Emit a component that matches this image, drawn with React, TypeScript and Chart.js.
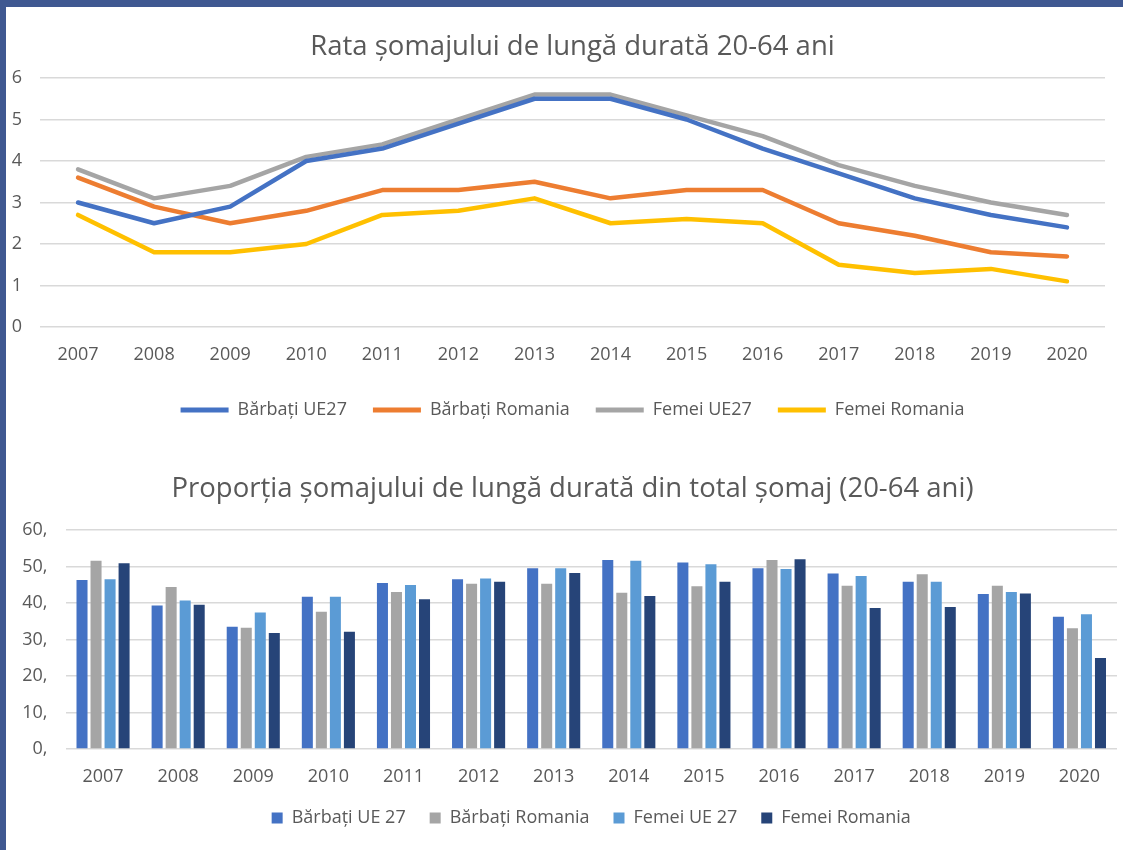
import React, { useEffect, useRef } from "react";
import { Chart, registerables } from "chart.js";

Chart.register(...registerables);

// ---------- DATA ----------
const years = ["2007", "2008", "2009", "2010", "2011", "2012", "2013", "2014", "2015", "2016", "2017", "2018", "2019", "2020"];

const rateTitle = "Rata șomajului de lungă durată 20-64 ani";
const rateSeriesNames = ["Bărbați UE27", "Bărbați Romania", "Femei UE27", "Femei Romania"];
const rateBarbatiUE27 = [3.0, 2.5, 2.9, 4.0, 4.3, 4.9, 5.5, 5.5, 5.0, 4.3, 3.7, 3.1, 2.7, 2.4];
const rateBarbatiRomania = [3.6, 2.9, 2.5, 2.8, 3.3, 3.3, 3.5, 3.1, 3.3, 3.3, 2.5, 2.2, 1.8, 1.7];
const rateFemeiUE27 = [3.8, 3.1, 3.4, 4.1, 4.4, 5.0, 5.6, 5.6, 5.1, 4.6, 3.9, 3.4, 3.0, 2.7];
const rateFemeiRomania = [2.7, 1.8, 1.8, 2.0, 2.7, 2.8, 3.1, 2.5, 2.6, 2.5, 1.5, 1.3, 1.4, 1.1];
const rateTickLabels = ["0", "1", "2", "3", "4", "5", "6"];

const shareTitle = "Proporția șomajului de lungă durată din total șomaj (20-64 ani)";
const shareSeriesNames = ["Bărbați UE 27", "Bărbați Romania", "Femei UE 27", "Femei Romania"];
const shareBarbatiUE27 = [46.3, 39.3, 33.5, 41.7, 45.5, 46.5, 49.5, 51.8, 51.1, 49.5, 48.1, 45.8, 42.5, 36.2];
const shareBarbatiRomania = [51.6, 44.4, 33.2, 37.6, 43.0, 45.3, 45.3, 42.8, 44.6, 51.8, 44.7, 47.9, 44.7, 33.1];
const shareFemeiUE27 = [46.5, 40.7, 37.4, 41.7, 44.9, 46.7, 49.5, 51.6, 50.6, 49.3, 47.4, 45.8, 43.0, 36.9];
const shareFemeiRomania = [50.9, 39.5, 31.8, 32.1, 41.0, 45.8, 48.2, 41.9, 45.8, 52.0, 38.6, 38.9, 42.6, 24.9];
const shareTickLabels = ["0,", "10,", "20,", "30,", "40,", "50,", "60,"];

// ---------- STYLE ----------
const TEXT = "#595959";
const GRID = "#D9D9D9";
const FONT = "'Open Sans', 'DejaVu Sans', sans-serif";
const lineColors = ["#4472C4", "#ED7D31", "#A5A5A5", "#FFC000"];
const barColors = ["#4472C4", "#A5A5A5", "#5B9BD5", "#264478"];

function LineChart() {
  const ref = useRef<HTMLCanvasElement | null>(null);
  useEffect(() => {
    if (!ref.current) return;
    const series = [rateBarbatiUE27, rateBarbatiRomania, rateFemeiUE27, rateFemeiRomania];
    const chart = new Chart(ref.current, {
      type: "line",
      data: {
        labels: years,
        datasets: series.map((d, i) => ({
          label: rateSeriesNames[i],
          data: d,
          borderColor: lineColors[i],
          backgroundColor: lineColors[i],
          borderWidth: 4.5,
          pointRadius: 0,
          tension: 0,
          fill: false,
          borderJoinStyle: "round" as const,
          borderCapStyle: "round" as const,
        })),
      },
      options: {
        animation: false,
        responsive: false,
        maintainAspectRatio: false,
        layout: { padding: { top: 71, left: 0, right: 18, bottom: 16 } },
        plugins: {
          title: { display: false },
          legend: {
            position: "bottom",
            fullSize: false,
            labels: {
              boxWidth: 48,
              boxHeight: 5,
              padding: 26,
              color: TEXT,
              font: { family: FONT, size: 18 },
              generateLabels: (c: any) =>
                c.data.datasets.map((ds: any, i: number) => ({
                  text: ds.label,
                  fillStyle: ds.borderColor,
                  strokeStyle: ds.borderColor,
                  lineWidth: 0,
                  hidden: false,
                  datasetIndex: i,
                  fontColor: TEXT,
                })),
            },
          },
          tooltip: { enabled: false },
        },
        scales: {
          x: {
            offset: true,
            grid: { display: false, drawTicks: false },
            border: { display: false },
            ticks: { color: TEXT, font: { family: FONT, size: 18 }, padding: 17, maxRotation: 0 },
            afterFit: (s: any) => {
              s.height = 48;
            },
          },
          y: {
            min: 0,
            max: 6,
            grid: { color: GRID, lineWidth: 1.5, drawTicks: false },
            border: { display: false },
            ticks: {
              stepSize: 1,
              color: TEXT,
              font: { family: FONT, size: 18 },
              padding: 18,
              callback: (v: any) => rateTickLabels[Math.round(Number(v))] ?? "",
            },
            afterFit: (s: any) => {
              s.width = 34;
            },
          },
        },
      },
    });
    return () => chart.destroy();
  }, []);
  return <canvas ref={ref} width={1117} height={438} style={{ display: "block" }} />;
}

function BarChart() {
  const ref = useRef<HTMLCanvasElement | null>(null);
  useEffect(() => {
    if (!ref.current) return;
    const series = [shareBarbatiUE27, shareBarbatiRomania, shareFemeiUE27, shareFemeiRomania];
    const chart = new Chart(ref.current, {
      type: "bar",
      data: {
        labels: years,
        datasets: series.map((d, i) => ({
          label: shareSeriesNames[i],
          data: d,
          backgroundColor: barColors[i],
          borderWidth: 0,
          categoryPercentage: 0.747,
          barPercentage: 0.786,
        })),
      },
      options: {
        animation: false,
        responsive: false,
        maintainAspectRatio: false,
        layout: { padding: { top: 85, left: 0, right: 6, bottom: 13 } },
        plugins: {
          title: { display: false },
          legend: {
            position: "bottom",
            fullSize: false,
            labels: {
              boxWidth: 11,
              boxHeight: 11,
              padding: 24,
              color: TEXT,
              font: { family: FONT, size: 18 },
            },
          },
          tooltip: { enabled: false },
        },
        scales: {
          x: {
            grid: { display: false, drawTicks: false },
            border: { display: false },
            ticks: { color: TEXT, font: { family: FONT, size: 18 }, padding: 17, maxRotation: 0 },
            afterFit: (s: any) => {
              s.height = 36;
            },
          },
          y: {
            min: 0,
            max: 60,
            grid: { color: GRID, lineWidth: 1.5, drawTicks: false },
            border: { display: false },
            ticks: {
              stepSize: 10,
              color: TEXT,
              font: { family: FONT, size: 18 },
              padding: 18,
              callback: (v: any) => shareTickLabels[Math.round(Number(v) / 10)] ?? "",
            },
            afterFit: (s: any) => {
              s.width = 59.5;
            },
          },
        },
      },
    });
    return () => chart.destroy();
  }, []);
  return <canvas ref={ref} width={1117} height={405} style={{ display: "block" }} />;
}

const titleStyle: React.CSSProperties = {
  position: "absolute",
  left: 0,
  width: 1145,
  height: 34,
  lineHeight: "34px",
  textAlign: "center",
  fontFamily: FONT,
  fontSize: 27.5,
  color: TEXT,
  whiteSpace: "nowrap",
};

export default function App() {
  useEffect(() => {
    document.body.style.margin = "0";
  }, []);
  return (
    <div
      style={{
        position: "absolute",
        left: 0,
        top: 0,
        width: 1123,
        height: 850,
        background: "#ffffff",
        overflow: "hidden",
      }}
    >
      <div style={{ position: "absolute", left: 6, top: 7 }}>
        <LineChart />
      </div>
      <div style={{ position: "absolute", left: 6, top: 445 }}>
        <BarChart />
      </div>
      <div style={{ ...titleStyle, top: 28 }}>{rateTitle}</div>
      <div style={{ ...titleStyle, top: 470 }}>{shareTitle}</div>
      <div style={{ position: "absolute", left: 0, top: 0, width: 1123, height: 7, background: "#3F5891" }} />
      <div style={{ position: "absolute", left: 0, top: 0, width: 6, height: 850, background: "#3F5891" }} />
    </div>
  );
}
